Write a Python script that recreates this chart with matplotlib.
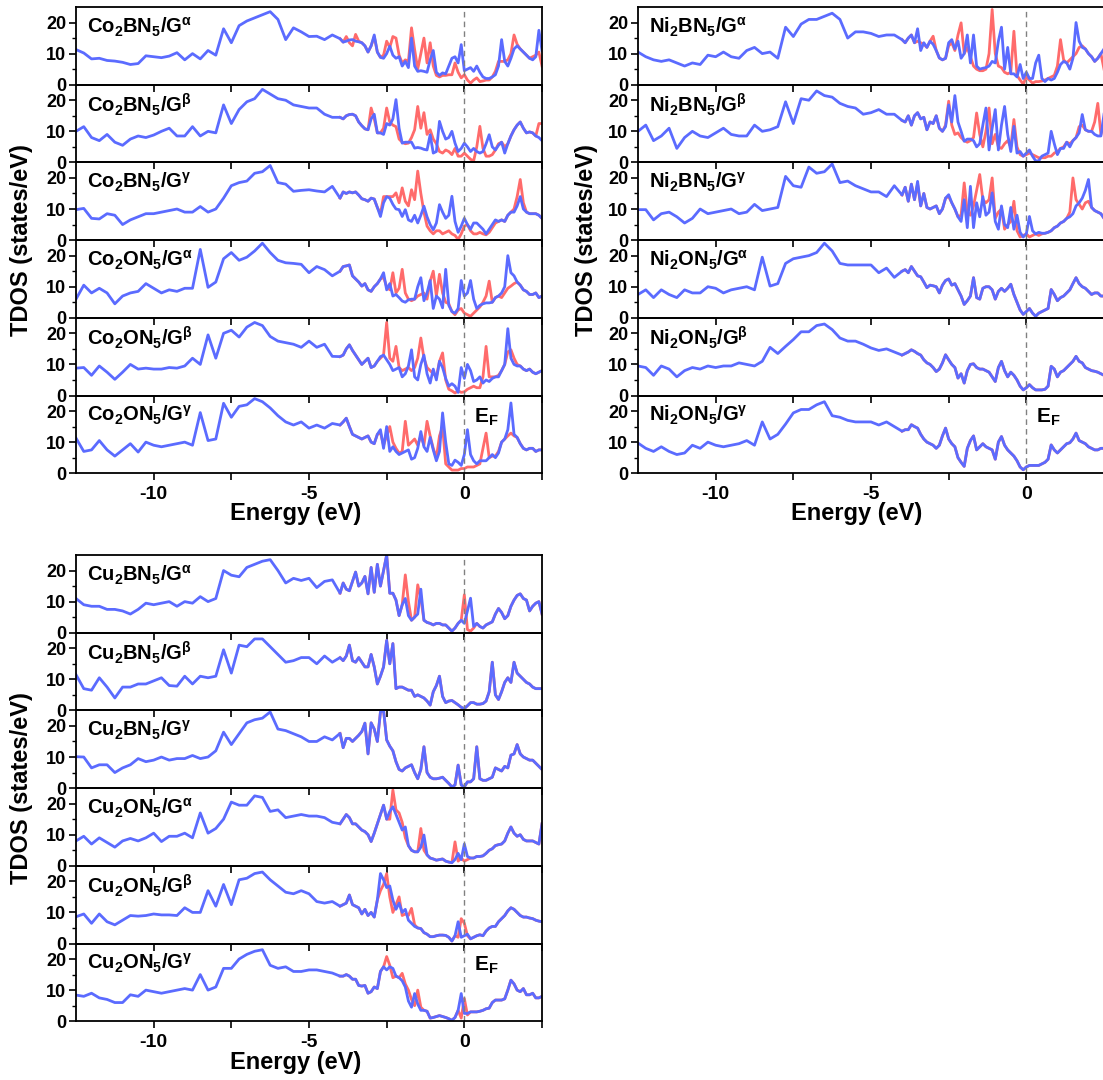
import numpy as np
import matplotlib
matplotlib.use("Agg")
import matplotlib.pyplot as plt

plt.rcParams['font.family'] = ['Liberation Sans', 'DejaVu Sans']
plt.rcParams['font.weight'] = 'bold'
plt.rcParams['mathtext.fontset'] = 'custom'
plt.rcParams['mathtext.rm'] = 'Liberation Sans:bold'
plt.rcParams['mathtext.it'] = 'Liberation Sans:bold'
plt.rcParams['mathtext.bf'] = 'Liberation Sans:bold'

# energy grid: coarse below -4 eV, fine near the Fermi level
E_LOW = np.linspace(-12.5, -4.25, 34)
E_HIGH = np.linspace(-4.0, 2.5, 66)
E_ALL = np.concatenate([E_LOW, E_HIGH])

# ---------------- Co2BN5 / Co2ON5 ----------------
co2bn5_a_blue = [11.3, 10.2, 8.3, 8.5, 7.8, 7.6, 7.2, 6.5, 6.8, 9.3, 9.0, 8.7, 9.2, 10.3, 8.0, 10.0, 8.3,
                 11.0, 9.5, 18.0, 13.5, 19.0, 20.5, 21.5, 22.5, 23.5, 21.0, 14.5, 18.3, 17.0, 15.5, 15.6, 14.5, 16.0,
                 14.8, 13.7, 14.0, 14.4, 14.5, 14.0, 13.8, 13.5, 12.5, 10.5,
                 12.5, 16.0, 10.5, 8.8, 8.5, 10.0, 12.4, 9.5, 8.5, 9.0,
                 6.0, 7.5, 5.5, 15.0, 6.0, 4.3, 4.5, 4.3, 4.0, 8.0,
                 11.0, 4.0, 3.0, 3.8, 3.5, 6.0, 8.5, 9.0, 7.0, 12.9,
                 4.5, 5.0, 5.5, 4.3, 6.0, 4.0, 2.5, 2.0, 2.0, 2.5,
                 3.2, 6.0, 14.5, 7.5, 6.0, 8.5, 11.5, 12.5, 11.5, 10.5,
                 9.5, 8.5, 8.0, 9.0, 17.5, 11.0]
co2bn5_a_red = [14.8, 13.7, 15.5, 13.5, 12.5, 16.2, 14.0, 13.5, 12.5, 10.5,
                12.5, 15.5, 10.5, 8.8, 9.5, 14.0, 12.0, 15.5, 15.0, 9.5,
                7.0, 8.0, 7.5, 18.3, 11.3, 5.0, 10.0, 15.0, 7.0, 13.5,
                6.0, 3.0, 2.5, 3.0, 3.0, 3.2, 3.2, 7.0, 4.0, 2.2,
                3.2, 1.5, 0.5, 1.5, 2.2, 1.0, 1.2, 1.5, 1.5, 2.5,
                4.3, 7.5, 7.5, 7.5, 8.0, 10.0, 16.0, 13.0, 11.5, 10.5,
                9.5, 8.5, 9.0, 9.5, 10.5, 6.0]

co2bn5_b_blue = [10.0, 11.5, 8.0, 7.0, 9.0, 6.5, 5.5, 7.5, 8.5, 8.0, 8.8, 10.0, 11.0, 8.5, 8.5, 11.5, 8.5,
                 10.0, 9.5, 18.5, 12.5, 17.0, 19.5, 20.5, 23.5, 22.0, 20.5, 20.0, 18.5, 18.0, 17.5, 17.5, 15.5, 14.5,
                 14.5, 14.0, 15.0, 15.4, 15.5, 15.0, 13.0, 11.8, 10.8, 10.5,
                 14.0, 15.5, 9.5, 9.5, 9.0, 12.5, 12.0, 14.0, 20.2, 11.0,
                 6.2, 6.5, 6.5, 6.5, 4.6, 4.8, 4.6, 4.2, 4.0, 8.9,
                 3.0, 3.5, 13.2, 10.0, 7.5, 8.0, 10.0, 6.2, 3.5, 4.5,
                 6.2, 5.0, 3.5, 4.5, 3.5, 3.0, 3.5, 6.0, 8.9, 5.0,
                 4.0, 5.5, 6.5, 3.0, 6.0, 8.5, 10.5, 12.0, 13.0, 11.0,
                 9.5, 9.8, 9.5, 8.5, 8.0, 7.0]
co2bn5_b_red = [14.5, 14.0, 15.0, 15.4, 15.5, 15.0, 13.0, 11.8, 10.8, 10.5,
                17.5, 14.0, 9.5, 9.5, 11.0, 17.5, 13.0, 12.0, 11.5, 7.5,
                6.5, 6.0, 6.2, 8.0, 10.5, 18.0, 11.0, 16.0, 9.0, 10.5,
                7.5, 6.0, 3.5, 3.0, 4.0, 3.5, 2.5, 4.5, 2.0, 2.0,
                3.0, 2.0, 1.0, 0.5, 5.0, 11.6, 4.5, 2.0, 2.0, 2.5,
                4.0, 6.0, 6.5, 5.0, 6.0, 8.5, 10.5, 12.0, 13.0, 11.0,
                9.5, 9.8, 9.5, 8.5, 12.5, 12.5]

co2bn5_g_blue = [9.8, 10.2, 7.0, 6.8, 8.5, 8.0, 5.0, 6.5, 7.5, 8.5, 8.5, 9.0, 9.5, 10.0, 9.0, 9.0, 10.8,
                 9.0, 10.0, 13.5, 17.5, 18.5, 19.0, 21.5, 22.0, 24.0, 18.5, 18.0, 15.7, 16.0, 16.2, 15.8, 15.5, 17.3,
                 13.5, 15.5, 15.0, 15.5, 15.2, 15.5, 14.5, 13.3, 13.0, 12.5,
                 13.5, 13.2, 10.5, 7.6, 12.0, 14.0, 13.5, 11.5, 10.0, 9.8,
                 7.6, 9.8, 6.5, 6.0, 8.0, 5.5, 8.0, 10.9, 7.5, 5.0,
                 3.3, 5.5, 11.4, 9.0, 7.0, 8.0, 14.1, 6.0, 2.5, 4.5,
                 7.0, 5.0, 3.5, 5.5, 5.5, 4.5, 3.5, 2.0, 3.5, 5.0,
                 6.5, 6.0, 6.5, 6.0, 8.0, 9.0, 9.0, 11.0, 14.0, 10.0,
                 9.0, 8.5, 8.5, 8.5, 8.0, 7.0]
co2bn5_g_red = [13.5, 15.5, 15.0, 15.5, 15.2, 15.5, 14.5, 13.3, 13.0, 12.5,
                13.5, 13.2, 10.5, 8.5, 14.0, 14.0, 14.0, 14.0, 15.2, 12.0,
                16.8, 12.5, 11.0, 16.2, 13.0, 22.2, 15.0, 9.0, 4.5, 3.0,
                2.0, 3.0, 3.0, 2.0, 2.5, 3.0, 2.0, 1.5, 0.2, 2.0,
                4.5, 5.0, 3.0, 2.0, 2.0, 2.5, 2.0, 1.7, 2.5, 4.0,
                5.5, 6.0, 6.5, 6.0, 8.0, 9.0, 10.0, 14.0, 19.5, 12.0,
                9.0, 8.5, 8.5, 8.5, 8.0, 7.0]

co2on5_a_blue = [6.0, 10.5, 8.0, 9.5, 8.0, 4.5, 7.0, 8.0, 8.5, 11.0, 9.5, 8.0, 9.0, 8.5, 9.5, 9.5, 22.0,
                 9.8, 11.5, 19.0, 21.0, 18.5, 19.5, 21.5, 24.0, 21.0, 18.5, 17.7, 17.5, 17.2, 14.5, 16.5, 15.5, 13.5,
                 15.0, 16.5, 16.7, 17.0, 13.5, 12.5, 11.5, 10.2, 11.0, 9.0,
                 8.5, 10.0, 11.0, 12.5, 14.5, 9.0, 11.0, 7.0, 7.5, 6.5,
                 5.4, 5.0, 5.8, 6.0, 6.0, 10.0, 12.9, 5.5, 8.0, 12.0,
                 3.0, 7.0, 6.0, 3.2, 15.6, 4.0, 2.0, 1.5, 3.0, 12.0,
                 7.0, 8.0, 12.0, 6.0, 3.0, 4.0, 4.5, 4.8, 4.8, 5.0,
                 6.5, 7.0, 8.0, 10.0, 20.0, 14.5, 13.5, 11.5, 10.5, 9.0,
                 8.5, 7.5, 7.5, 8.0, 6.5, 7.0]
co2on5_a_red = [15.0, 16.5, 16.7, 17.0, 13.5, 12.5, 11.5, 10.2, 11.0, 9.0,
                8.5, 10.0, 11.0, 12.5, 13.0, 10.0, 9.0, 14.5, 8.0, 9.5,
                15.6, 8.0, 6.0, 5.5, 6.0, 7.0, 7.5, 8.0, 6.0, 11.8,
                15.0, 7.0, 14.0, 8.0, 5.0, 4.5, 2.0, 1.0, 2.5, 3.0,
                1.5, 1.0, 0.5, 1.5, 2.5, 3.5, 5.0, 7.0, 11.8, 5.0,
                6.5, 7.0, 6.5, 8.0, 9.5, 10.2, 11.0, 11.5, 10.5, 9.0,
                8.5, 7.5, 7.5, 8.0, 6.5, 7.0]

co2on5_b_blue = [8.8, 9.0, 6.5, 9.5, 7.5, 5.2, 7.5, 10.0, 8.5, 8.8, 8.5, 8.5, 9.0, 8.8, 9.5, 12.0, 10.0,
                 19.5, 12.0, 20.0, 21.0, 18.8, 22.0, 23.5, 22.5, 19.0, 17.5, 17.0, 16.5, 15.5, 17.5, 15.5, 16.5, 12.6,
                 12.5, 13.0, 15.0, 16.3, 14.5, 13.0, 11.5, 10.0, 11.0, 12.0,
                 9.0, 9.5, 11.0, 12.5, 13.0, 11.5, 10.0, 8.0, 8.5, 9.0,
                 6.0, 7.0, 9.5, 14.7, 6.0, 5.0, 10.0, 13.0, 7.0, 4.0,
                 8.5, 5.0, 11.0, 9.0, 5.5, 3.0, 3.8, 3.0, 1.0, 9.0,
                 5.5, 10.0, 8.0, 4.5, 5.0, 6.0, 4.0, 5.0, 4.5, 5.5,
                 6.0, 6.0, 8.0, 10.0, 21.5, 12.0, 10.0, 9.5, 9.5, 8.5,
                 8.0, 8.5, 7.5, 7.0, 7.5, 8.0]
co2on5_b_red = [12.5, 13.0, 15.0, 16.3, 14.5, 13.0, 11.5, 10.0, 11.0, 12.0,
                9.0, 9.5, 11.0, 12.0, 13.0, 23.5, 12.0, 11.0, 15.8, 9.0,
                8.0, 8.5, 9.0, 8.0, 9.0, 12.0, 18.5, 12.0, 9.0, 8.0,
                7.0, 6.0, 11.0, 13.7, 5.0, 2.0, 1.5, 0.8, 1.5, 1.0,
                1.2, 2.0, 2.5, 3.0, 2.5, 2.5, 6.0, 15.8, 6.0, 6.0,
                6.0, 6.5, 8.0, 10.0, 14.0, 14.7, 12.0, 10.0, 9.5, 8.5,
                8.0, 8.5, 7.5, 7.0, 7.5, 8.0]

co2on5_g_blue = [11.3, 7.0, 7.5, 10.5, 7.5, 5.5, 7.5, 9.5, 6.8, 10.0, 9.0, 8.5, 9.0, 9.5, 10.0, 9.0, 19.5,
                 10.5, 11.0, 22.5, 18.0, 21.5, 22.0, 24.0, 23.0, 21.0, 18.5, 16.5, 15.5, 16.5, 14.5, 15.5, 14.5, 16.0,
                 15.5, 16.5, 17.7, 15.0, 12.5, 12.0, 11.5, 11.0, 11.5, 12.0,
                 10.0, 9.5, 12.5, 14.0, 8.0, 15.0, 7.0, 8.5, 7.0, 6.0,
                 6.5, 7.0, 7.5, 4.5, 5.0, 8.0, 13.4, 8.5, 7.0, 11.5,
                 7.5, 4.0, 7.0, 19.4, 10.0, 3.0, 2.5, 4.2, 3.5, 2.5,
                 6.0, 14.0, 6.0, 4.0, 3.0, 4.0, 4.0, 4.0, 5.0, 6.0,
                 5.0, 6.5, 10.0, 11.0, 14.0, 22.6, 12.5, 11.5, 9.5, 8.0,
                 7.5, 8.0, 8.0, 7.0, 7.5, 7.5]
co2on5_g_red = [15.5, 16.5, 17.7, 15.0, 12.5, 12.0, 11.5, 11.0, 11.5, 12.0,
                10.0, 9.5, 12.5, 13.0, 9.0, 12.0, 15.0, 10.0, 8.0, 6.5,
                7.0, 16.7, 9.0, 10.0, 11.0, 9.0, 12.0, 9.0, 16.7, 12.0,
                8.0, 5.0, 12.0, 15.0, 3.0, 2.0, 1.0, 1.0, 1.0, 1.5,
                1.5, 2.0, 2.0, 2.0, 2.5, 3.0, 8.0, 12.9, 5.0, 5.5,
                5.5, 7.0, 10.0, 11.0, 12.0, 12.9, 12.0, 11.5, 9.5, 8.0,
                7.5, 8.0, 8.0, 7.0, 7.5, 7.5]

# ---------------- Ni2BN5 / Ni2ON5 ----------------
ni2bn5_a_blue = [10.5, 9.0, 8.0, 7.5, 8.0, 7.0, 6.0, 7.0, 6.5, 9.5, 9.0, 10.5, 9.0, 8.5, 11.0, 12.0, 10.0,
                 10.5, 8.5, 18.5, 15.5, 19.5, 21.0, 21.0, 22.0, 23.0, 21.0, 15.0, 17.0, 17.0, 16.5, 15.5, 16.0, 16.0,
                 14.5, 13.5, 15.0, 16.0, 13.5, 18.0, 11.0, 13.5, 12.0, 14.0,
                 13.0, 11.0, 8.6, 8.0, 8.5, 13.5, 14.5, 11.5, 14.0, 8.5,
                 10.0, 16.0, 7.0, 16.0, 6.0, 5.0, 5.3, 5.5, 6.0, 7.5,
                 7.0, 14.0, 18.5, 5.0, 12.0, 3.5, 3.5, 2.5, 6.5, 2.0,
                 4.0, 2.0, 2.0, 7.0, 9.5, 2.0, 1.0, 2.0, 1.5, 2.0,
                 4.0, 6.5, 7.5, 7.0, 5.0, 8.5, 20.0, 14.0, 12.0, 11.5,
                 10.0, 9.0, 7.5, 8.5, 10.0, 11.5]
ni2bn5_a_red = [14.5, 13.5, 15.0, 16.0, 13.5, 14.0, 13.5, 13.0, 12.0, 14.0,
                15.6, 11.0, 8.6, 8.0, 8.5, 12.5, 13.5, 11.0, 16.0, 19.9,
                10.0, 12.0, 9.0, 6.0, 5.0, 4.5, 4.5, 5.0, 10.0, 24.2,
                10.0, 6.0, 5.5, 4.0, 3.5, 4.0, 17.2, 3.0, 1.5, 0.2,
                2.5, 1.5, 0.5, 1.0, 1.0, 1.2, 1.5, 2.0, 2.5, 3.0,
                6.0, 14.5, 8.0, 7.0, 8.0, 9.0, 10.0, 12.0, 12.5, 11.5,
                10.0, 9.0, 7.5, 8.5, 10.0, 5.0]

ni2bn5_b_blue = [10.0, 12.0, 7.0, 8.5, 11.0, 4.5, 8.0, 10.0, 8.5, 8.0, 9.5, 11.0, 9.0, 8.5, 8.5, 12.0, 10.0,
                 10.5, 11.5, 19.5, 12.5, 20.5, 20.0, 23.0, 21.5, 21.0, 19.0, 18.0, 17.5, 15.5, 16.0, 17.0, 15.5, 15.5,
                 13.5, 13.0, 15.0, 12.0, 15.0, 16.0, 14.0, 14.5, 10.5, 13.0,
                 12.5, 15.0, 11.0, 10.0, 11.5, 18.5, 13.0, 21.5, 13.0, 10.0,
                 6.8, 7.5, 7.5, 7.0, 5.0, 6.0, 12.0, 17.5, 4.0, 11.0,
                 17.0, 4.0, 12.0, 18.0, 9.0, 3.5, 11.6, 3.0, 3.5, 2.0,
                 3.0, 4.0, 2.0, 0.5, 0.5, 2.0, 2.5, 3.0, 10.0, 6.0,
                 2.5, 4.5, 4.5, 6.5, 5.0, 7.0, 8.0, 9.5, 15.4, 10.5,
                 10.0, 10.0, 9.0, 8.5, 8.5, 15.5]
ni2bn5_b_red = [13.5, 13.0, 15.0, 12.0, 15.0, 16.0, 14.0, 14.5, 10.5, 13.0,
                12.5, 15.0, 11.0, 10.0, 12.0, 19.7, 12.0, 9.0, 9.5, 8.0,
                7.0, 6.5, 7.0, 8.0, 15.9, 9.0, 5.0, 10.0, 17.5, 6.0,
                9.0, 5.0, 4.5, 6.0, 7.0, 5.0, 13.8, 5.0, 2.5, 2.0,
                2.5, 3.0, 2.5, 2.0, 1.5, 1.5, 1.5, 2.0, 2.0, 3.0,
                3.5, 4.5, 5.0, 6.5, 6.0, 7.0, 8.0, 11.5, 12.0, 10.5,
                10.0, 10.0, 13.0, 19.0, 9.0, 12.5]

ni2bn5_g_blue = [9.8, 9.8, 6.5, 8.5, 9.0, 7.5, 5.5, 7.0, 10.0, 8.5, 9.0, 9.5, 10.0, 8.5, 9.0, 11.5, 9.5,
                 10.0, 10.5, 20.5, 17.5, 17.0, 23.5, 21.5, 22.0, 24.5, 18.5, 19.0, 17.5, 16.5, 15.5, 15.5, 14.0, 17.5,
                 14.5, 17.0, 12.5, 18.0, 13.0, 18.9, 11.0, 15.0, 10.5, 10.0,
                 10.5, 11.0, 8.5, 10.0, 13.5, 14.6, 12.0, 10.0, 7.5, 6.0,
                 13.0, 4.0, 17.3, 4.0, 12.0, 7.5, 14.0, 8.0, 9.0, 15.2,
                 6.0, 3.5, 11.0, 5.0, 4.0, 10.5, 3.5, 8.0, 2.5, 1.0,
                 2.0, 7.6, 3.0, 2.0, 2.5, 2.2, 2.2, 2.5, 3.0, 4.0,
                 4.5, 5.5, 6.0, 7.0, 7.5, 8.5, 11.0, 12.0, 13.5, 16.0,
                 19.5, 10.5, 9.5, 9.0, 8.5, 7.0]
ni2bn5_g_red = [14.5, 17.0, 12.5, 18.0, 13.0, 18.0, 11.0, 15.0, 10.5, 10.0,
                10.5, 11.0, 8.5, 10.0, 13.5, 14.0, 12.0, 10.0, 7.5, 8.0,
                18.4, 9.0, 8.0, 11.0, 16.0, 21.1, 13.0, 12.0, 13.0, 20.0,
                7.0, 9.0, 10.0, 3.5, 5.0, 6.0, 12.5, 3.0, 1.0, 1.5,
                2.0, 1.0, 1.5, 2.0, 1.5, 2.0, 2.2, 2.5, 3.0, 4.0,
                4.5, 5.5, 6.0, 7.0, 9.0, 20.0, 13.0, 11.5, 10.0, 12.0,
                12.5, 10.5, 9.5, 9.0, 8.5, 7.0]

ni2on5_a_blue = [7.5, 9.0, 6.5, 9.0, 7.5, 6.5, 9.0, 8.0, 8.0, 10.0, 9.5, 8.0, 9.0, 9.5, 10.0, 9.0, 19.5,
                 10.2, 11.0, 17.5, 19.0, 19.5, 20.0, 21.0, 24.0, 21.5, 17.5, 17.0, 17.0, 17.0, 17.0, 14.5, 16.0, 13.0,
                 15.0, 15.5, 14.5, 16.5, 15.0, 13.5, 13.2, 11.5, 9.7, 10.5,
                 10.3, 10.0, 8.0, 10.5, 12.0, 12.5, 10.5, 11.0, 9.0, 7.0,
                 4.3, 5.5, 7.0, 12.9, 6.5, 6.0, 9.5, 10.0, 10.0, 9.0,
                 6.0, 8.5, 9.5, 8.5, 9.5, 10.8, 7.5, 5.0, 2.5, 1.1,
                 2.0, 3.0, 1.5, 0.5, 1.5, 2.0, 2.5, 3.0, 9.1, 7.5,
                 5.5, 6.5, 7.0, 8.0, 9.0, 11.0, 12.9, 11.0, 10.0, 9.5,
                 8.5, 7.5, 8.0, 8.0, 7.0, 7.0]

ni2on5_b_blue = [9.5, 9.0, 6.5, 9.5, 8.5, 6.0, 8.0, 9.0, 8.5, 9.5, 9.0, 9.5, 9.5, 10.5, 10.0, 9.5, 11.0,
                 15.5, 13.5, 15.8, 18.0, 20.5, 20.5, 22.5, 23.0, 21.2, 18.5, 17.5, 17.5, 16.5, 15.3, 14.5, 15.0, 14.0,
                 13.0, 13.5, 14.0, 14.7, 14.2, 13.5, 13.0, 11.5, 10.5, 10.0,
                 9.0, 7.7, 8.5, 10.5, 13.1, 11.5, 10.0, 9.0, 5.6, 7.0,
                 4.0, 8.0, 10.0, 10.2, 9.0, 8.5, 8.5, 8.0, 7.5, 6.0,
                 4.5, 9.0, 11.0, 8.0, 6.0, 7.5, 6.5, 5.0, 3.0, 1.8,
                 2.5, 3.5, 2.5, 1.8, 1.8, 1.8, 2.0, 3.0, 9.4, 8.5,
                 6.0, 7.5, 8.0, 9.0, 10.0, 11.0, 12.6, 11.0, 10.5, 9.0,
                 8.5, 8.0, 7.8, 7.5, 7.0, 6.5]

ni2on5_g_blue = [9.7, 8.0, 7.0, 8.5, 7.0, 6.0, 6.5, 9.0, 8.0, 10.0, 9.0, 8.5, 9.0, 9.5, 10.5, 9.0, 16.5,
                 11.0, 12.5, 15.8, 19.4, 20.5, 20.5, 22.0, 23.0, 18.5, 18.0, 17.0, 16.5, 16.5, 16.5, 15.5, 16.5, 15.0,
                 13.5, 14.0, 14.0, 15.6, 15.0, 14.5, 12.5, 11.0, 10.0, 9.5,
                 9.0, 8.0, 9.0, 12.0, 14.5, 11.0, 9.5, 8.5, 5.0, 3.5,
                 2.2, 8.0, 10.5, 12.0, 7.5, 8.5, 9.5, 8.5, 8.0, 7.5,
                 4.5, 10.0, 11.8, 9.0, 7.5, 6.5, 5.5, 4.0, 2.0, 1.1,
                 2.0, 2.5, 2.5, 2.5, 2.5, 3.0, 3.5, 4.5, 9.1, 7.5,
                 6.5, 7.5, 8.5, 9.5, 9.8, 11.0, 12.9, 10.5, 10.0, 9.5,
                 8.5, 8.0, 7.5, 7.5, 8.0, 8.0]

# ---------------- Cu2BN5 / Cu2ON5 ----------------
cu2bn5_a_blue = [11.0, 9.0, 8.5, 8.5, 7.5, 7.5, 7.0, 6.0, 7.5, 9.5, 9.0, 9.5, 10.0, 8.5, 10.0, 9.5, 11.6,
                 10.0, 11.0, 20.0, 18.5, 18.0, 21.0, 22.0, 23.0, 23.5, 20.0, 16.0, 17.5, 16.8, 17.5, 14.5, 16.5, 17.0,
                 12.7, 16.0, 14.0, 13.5, 16.5, 19.5, 15.0, 16.0, 18.1, 12.5,
                 21.0, 13.0, 22.0, 15.0, 20.0, 25.0, 12.7, 12.7, 10.5, 5.5,
                 9.0, 11.0, 5.5, 4.0, 5.0, 6.0, 14.0, 4.0, 3.3, 3.0,
                 2.5, 3.0, 3.0, 2.5, 2.5, 1.5, 0.5, 1.5, 3.0, 4.0,
                 3.0, 7.0, 11.1, 2.0, 3.0, 2.0, 1.5, 2.5, 3.0, 3.5,
                 6.0, 7.8, 6.5, 4.5, 5.5, 8.5, 10.5, 12.0, 12.5, 11.0,
                 10.5, 7.0, 8.5, 9.5, 10.0, 6.0]
cu2bn5_a_red = [12.7, 16.0, 14.0, 13.5, 16.5, 19.5, 15.0, 16.0, 18.1, 12.5,
                21.0, 13.0, 22.0, 15.0, 20.0, 25.0, 12.7, 12.7, 10.5, 5.5,
                9.0, 18.6, 10.0, 4.0, 5.0, 15.4, 11.0, 4.0, 3.3, 3.0,
                2.5, 3.0, 3.0, 2.5, 2.5, 1.5, 0.5, 1.5, 3.0, 4.0,
                12.2, 1.0, 0.5, 1.5, 3.0, 2.0, 1.5, 2.5, 3.0, 3.5,
                6.0, 7.8, 6.5, 4.5, 5.5, 8.5, 10.5, 12.0, 12.5, 11.0,
                10.5, 7.0, 8.5, 9.5, 10.0, 6.0]

cu2bn5_b_blue = [11.5, 7.0, 6.5, 10.5, 7.5, 4.0, 7.5, 7.5, 8.5, 8.5, 9.5, 10.5, 8.0, 7.8, 11.0, 8.5, 11.0,
                 10.5, 11.0, 19.5, 12.0, 21.0, 20.5, 23.0, 23.0, 20.5, 18.0, 15.5, 16.0, 17.0, 17.0, 15.0, 17.5, 15.5,
                 17.0, 16.0, 17.5, 21.0, 16.0, 15.5, 17.0, 15.5, 14.0, 14.0,
                 18.0, 14.0, 8.5, 11.0, 14.0, 22.5, 15.0, 21.5, 7.0, 7.5,
                 7.5, 7.0, 6.5, 6.5, 4.5, 5.0, 4.5, 4.0, 3.0, 1.7,
                 6.0, 8.0, 11.0, 4.5, 2.5, 3.0, 3.2, 2.5, 1.8, 1.0,
                 0.6, 1.5, 2.5, 2.5, 2.0, 2.0, 2.2, 3.0, 6.0, 15.5,
                 5.0, 3.5, 6.0, 9.0, 10.5, 9.0, 15.5, 12.0, 11.0, 10.0,
                 9.0, 8.5, 7.5, 7.0, 7.0, 7.0]

cu2bn5_g_blue = [10.1, 10.0, 6.5, 7.5, 7.5, 5.0, 6.5, 7.5, 9.5, 8.5, 9.0, 10.0, 9.0, 9.5, 9.5, 10.5, 9.5,
                 10.0, 12.0, 18.0, 14.0, 17.5, 21.0, 22.0, 22.5, 24.5, 19.0, 18.5, 17.5, 16.5, 15.0, 15.0, 16.5, 15.5,
                 17.6, 13.0, 16.0, 16.0, 15.0, 16.0, 17.0, 18.2, 20.9, 11.0,
                 21.0, 19.0, 15.0, 24.5, 25.0, 15.5, 13.5, 12.0, 8.5, 6.0,
                 5.5, 6.5, 7.0, 7.5, 5.0, 3.0, 6.0, 13.3, 5.0, 3.5,
                 3.0, 3.0, 3.2, 3.5, 2.5, 1.5, 0.4, 1.0, 7.4, 1.0,
                 0.4, 2.0, 2.0, 3.0, 13.3, 3.0, 2.5, 2.5, 3.0, 3.5,
                 6.5, 6.0, 5.5, 7.0, 6.5, 10.6, 11.0, 14.0, 11.0, 10.0,
                 9.5, 9.0, 9.0, 8.0, 7.0, 6.0]

cu2on5_a_blue = [8.0, 9.5, 7.0, 9.0, 7.5, 6.0, 8.0, 8.8, 8.0, 9.0, 10.5, 7.8, 9.5, 9.5, 10.5, 9.0, 17.0,
                 10.5, 12.0, 15.0, 20.5, 19.5, 19.5, 22.5, 22.0, 17.5, 18.0, 15.5, 16.0, 16.5, 16.0, 16.0, 15.5, 14.0,
                 13.5, 15.0, 16.5, 15.5, 13.5, 13.5, 12.5, 11.5, 11.0, 10.0,
                 7.8, 10.5, 13.5, 16.5, 19.5, 15.0, 17.5, 19.0, 16.5, 14.0,
                 11.5, 12.5, 6.5, 5.0, 4.5, 4.5, 6.0, 9.9, 3.5, 2.5,
                 2.2, 1.8, 2.0, 2.2, 1.5, 1.2, 1.0, 2.0, 4.0, 2.0,
                 7.0, 3.0, 2.5, 2.5, 3.0, 3.0, 3.2, 4.0, 5.0, 5.5,
                 6.5, 6.8, 7.0, 8.0, 10.5, 12.5, 10.5, 9.5, 10.0, 8.5,
                 8.0, 8.0, 8.0, 7.5, 7.0, 13.5]
cu2on5_a_red = [13.5, 15.0, 16.5, 15.5, 13.5, 13.5, 12.5, 11.5, 11.0, 10.0,
                7.8, 10.5, 13.5, 16.5, 19.5, 15.0, 15.0, 24.4, 18.0, 17.0,
                14.0, 9.0, 6.5, 5.0, 4.5, 4.5, 12.0, 5.0, 3.5, 2.5,
                2.2, 1.8, 2.0, 2.2, 1.5, 1.2, 1.0, 7.7, 1.5, 2.5,
                1.5, 2.0, 2.5, 2.5, 3.0, 3.0, 3.2, 4.0, 5.0, 5.5,
                6.5, 6.8, 7.0, 8.0, 10.5, 12.5, 10.5, 9.5, 10.0, 8.5,
                8.0, 8.0, 8.0, 7.5, 7.0, 13.5]

cu2on5_b_blue = [8.6, 9.5, 6.5, 9.5, 7.0, 6.0, 7.5, 9.0, 8.8, 9.0, 9.5, 9.2, 9.2, 9.0, 11.5, 10.0, 10.0,
                 17.0, 12.0, 19.0, 12.5, 20.5, 21.0, 22.5, 23.0, 20.5, 18.5, 16.5, 16.0, 17.0, 16.0, 13.5, 13.0, 13.5,
                 12.0, 12.5, 13.0, 15.6, 12.5, 12.0, 11.5, 9.5, 11.0, 9.0,
                 10.0, 8.5, 14.0, 22.5, 20.5, 18.0, 18.5, 14.0, 11.0, 13.0,
                 10.0, 11.0, 7.5, 6.5, 5.5, 5.0, 4.8, 3.5, 3.0, 2.2,
                 2.2, 2.5, 2.7, 2.7, 2.6, 2.0, 0.8, 2.5, 7.0, 2.0,
                 2.5, 3.0, 1.5, 2.0, 2.5, 2.8, 2.5, 4.0, 5.0, 5.5,
                 5.5, 7.0, 8.0, 9.0, 10.5, 11.5, 11.0, 10.0, 9.0, 8.5,
                 8.5, 8.2, 8.0, 7.5, 7.2, 7.0]
cu2on5_b_red = [12.0, 12.5, 13.0, 15.6, 12.5, 12.0, 11.5, 9.5, 11.0, 9.0,
                10.0, 8.5, 14.0, 17.0, 19.0, 22.5, 15.0, 10.0, 12.5, 15.0,
                9.0, 9.5, 9.0, 11.3, 6.0, 5.0, 4.8, 3.5, 3.0, 2.2,
                2.2, 2.5, 2.7, 2.7, 2.6, 2.0, 0.8, 2.5, 2.0, 8.0,
                6.5, 2.5, 1.5, 2.0, 2.5, 2.8, 2.5, 4.0, 5.0, 5.5,
                5.5, 7.0, 8.0, 9.0, 10.5, 11.5, 11.0, 10.0, 9.0, 8.5,
                8.5, 8.2, 8.0, 7.5, 7.2, 7.0]

cu2on5_g_blue = [8.4, 8.0, 9.0, 7.5, 7.0, 6.0, 6.0, 8.5, 8.0, 10.0, 9.5, 9.0, 9.5, 10.0, 10.5, 10.0, 15.0,
                 10.0, 11.0, 17.0, 17.0, 20.0, 21.5, 22.5, 23.0, 18.0, 17.0, 17.5, 16.0, 16.0, 16.5, 16.5, 16.0, 15.5,
                 14.5, 14.5, 15.0, 14.5, 13.5, 13.5, 11.5, 11.3, 11.5, 9.0,
                 9.5, 11.0, 10.5, 16.0, 17.5, 16.5, 17.5, 17.0, 14.5, 14.0,
                 13.0, 11.0, 6.5, 4.5, 8.9, 5.5, 3.5, 3.5, 3.2, 1.0,
                 1.2, 1.5, 1.8, 1.5, 1.2, 0.8, 0.3, 1.2, 3.5, 8.9,
                 2.5, 2.5, 3.0, 3.0, 3.0, 3.2, 3.5, 4.0, 4.2, 6.0,
                 6.8, 6.8, 6.8, 7.2, 10.0, 13.2, 12.0, 10.0, 9.5, 10.5,
                 8.5, 8.5, 9.0, 7.5, 7.5, 8.0]
cu2on5_g_red = [14.5, 14.5, 15.0, 14.5, 13.5, 13.5, 11.5, 11.3, 11.5, 9.0,
                9.5, 11.0, 10.5, 16.0, 17.5, 20.8, 18.0, 14.0, 14.5, 14.0,
                15.4, 12.0, 10.0, 7.0, 5.0, 10.0, 4.5, 3.5, 3.2, 1.0,
                1.2, 1.5, 1.8, 1.5, 1.2, 0.8, 0.3, 1.2, 3.5, 1.0,
                7.3, 2.0, 3.0, 3.0, 3.0, 3.2, 3.5, 4.0, 4.2, 6.0,
                6.8, 6.8, 6.8, 7.2, 10.0, 13.2, 12.0, 10.0, 9.5, 10.5,
                8.5, 8.5, 9.0, 7.5, 7.5, 8.0]

RED = '#FF6B6B'
BLUE = '#5B6BFF'


def high(seq):
    # part of a blue series on the fine grid (spin channels coincide elsewhere)
    return seq[len(E_LOW):]


co_panels = [
    (r'Co$_2$BN$_5$/G$^\alpha$', co2bn5_a_blue, co2bn5_a_red),
    (r'Co$_2$BN$_5$/G$^\beta$', co2bn5_b_blue, co2bn5_b_red),
    (r'Co$_2$BN$_5$/G$^\gamma$', co2bn5_g_blue, co2bn5_g_red),
    (r'Co$_2$ON$_5$/G$^\alpha$', co2on5_a_blue, co2on5_a_red),
    (r'Co$_2$ON$_5$/G$^\beta$', co2on5_b_blue, co2on5_b_red),
    (r'Co$_2$ON$_5$/G$^\gamma$', co2on5_g_blue, co2on5_g_red),
]
ni_panels = [
    (r'Ni$_2$BN$_5$/G$^\alpha$', ni2bn5_a_blue, ni2bn5_a_red),
    (r'Ni$_2$BN$_5$/G$^\beta$', ni2bn5_b_blue, ni2bn5_b_red),
    (r'Ni$_2$BN$_5$/G$^\gamma$', ni2bn5_g_blue, ni2bn5_g_red),
    (r'Ni$_2$ON$_5$/G$^\alpha$', ni2on5_a_blue, high(ni2on5_a_blue)),
    (r'Ni$_2$ON$_5$/G$^\beta$', ni2on5_b_blue, high(ni2on5_b_blue)),
    (r'Ni$_2$ON$_5$/G$^\gamma$', ni2on5_g_blue, high(ni2on5_g_blue)),
]
cu_panels = [
    (r'Cu$_2$BN$_5$/G$^\alpha$', cu2bn5_a_blue, cu2bn5_a_red),
    (r'Cu$_2$BN$_5$/G$^\beta$', cu2bn5_b_blue, high(cu2bn5_b_blue)),
    (r'Cu$_2$BN$_5$/G$^\gamma$', cu2bn5_g_blue, high(cu2bn5_g_blue)),
    (r'Cu$_2$ON$_5$/G$^\alpha$', cu2on5_a_blue, cu2on5_a_red),
    (r'Cu$_2$ON$_5$/G$^\beta$', cu2on5_b_blue, cu2on5_b_red),
    (r'Cu$_2$ON$_5$/G$^\gamma$', cu2on5_g_blue, cu2on5_g_red),
]

W, H = 1103, 1080
fig = plt.figure(figsize=(W / 100, H / 100), dpi=100)
PANEL_H = 77.7
PANEL_W = 466


def draw_group(left, top, panels, ylab_x, xlab_x, xlab_y):
    n = len(panels)
    for i, (label, blue, red) in enumerate(panels):
        y0 = top + i * PANEL_H
        ax = fig.add_axes([left / W, 1 - (y0 + PANEL_H) / H, PANEL_W / W, PANEL_H / H])
        ax.patch.set_alpha(0)
        ax.plot(E_HIGH, red, color=RED, lw=2.0, solid_joinstyle='round')
        ax.plot(E_ALL, blue, color=BLUE, lw=2.0, solid_joinstyle='round')
        ax.axvline(0, color='#808080', lw=1.0, ls=(0, (4, 3)))
        ax.set_xlim(-12.5, 2.5)
        ax.set_ylim(0, 25)
        ax.set_yticks([0, 10, 20])
        ax.set_yticks([5, 15], minor=True)
        ax.set_xticks([-10, -5, 0])
        ax.set_xticks([-7.5, -2.5, 2.5], minor=True)
        ax.tick_params(axis='y', which='major', length=5, width=1.2, labelsize=13, pad=2)
        ax.tick_params(axis='y', which='minor', length=3, width=1.0)
        ax.tick_params(axis='x', which='both', length=5, width=1.2, labelsize=14, pad=4)
        for s in ax.spines.values():
            s.set_linewidth(1.3)
        if i < n - 1:
            ax.tick_params(axis='x', labelbottom=False)
        else:
            ax.set_xticklabels(['-10', '-5', '0'])
            ax.text(0.3, 18, r'E$_F$', fontsize=15, fontweight='bold', va='center', ha='left')
        ax.text(0.024, 0.74, label, transform=ax.transAxes, fontsize=14.5,
                fontweight='bold', va='center', ha='left')
    mid = top + n * PANEL_H / 2
    fig.text(ylab_x / W, 1 - mid / H, 'TDOS (states/eV)', rotation=90,
             fontsize=17, fontweight='bold', ha='center', va='center')
    fig.text(xlab_x / W, 1 - xlab_y / H, 'Energy (eV)', fontsize=17,
             fontweight='bold', ha='center', va='center')


draw_group(76, 7, co_panels, 22, 296, 514)
draw_group(638, 7, ni_panels, 586, 857, 514)
draw_group(76, 555, cu_panels, 22, 296, 1062)

fig.savefig('out.png', dpi=100, facecolor='white')
